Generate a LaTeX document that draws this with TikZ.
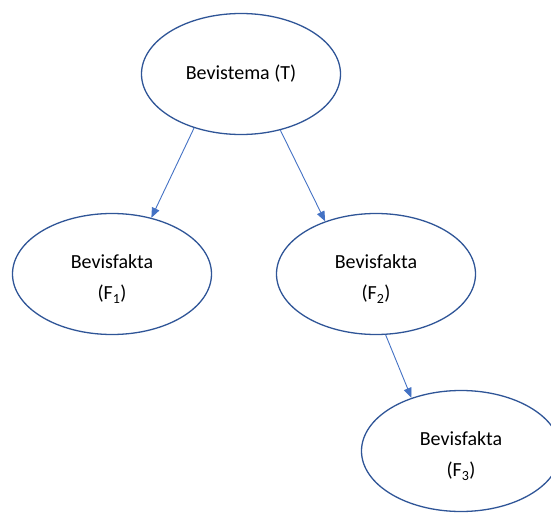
\documentclass[tikz,border=0pt]{standalone}
\usepackage{fontspec}
\setmainfont{Carlito}
\usetikzlibrary{shapes.geometric,arrows.meta}
\definecolor{elline}{HTML}{2F5597}
\definecolor{arline}{HTML}{4472C4}
\newcommand{\lowstrut}{\rule{0pt}{24pt}}
\tikzset{
  bubble/.style={ellipse, draw=elline, line width=1.3pt, minimum width=199pt, minimum height=121pt, inner sep=0pt, align=center, font=\fontsize{20}{31}\selectfont, text=black},
  conn/.style={draw=arline, line width=0.9pt, -{Triangle[length=10pt,width=8pt]}}
}
\begin{document}
\begin{tikzpicture}[x=1pt,y=-1pt]
\useasboundingbox (0,0) rectangle (551,513);
\node[bubble] (T) at (241,74) {Bevistema (T)};
\node[bubble] (F1) at (112,274) {\lowstrut Bevisfakta\\(F\textsubscript{1})};
\node[bubble] (F2) at (376,274) {\lowstrut Bevisfakta\\(F\textsubscript{2})};
\node[bubble] (F3) at (461,451) {\lowstrut Bevisfakta\\(F\textsubscript{3})};
\draw[conn] (T.229) -- (F1.55);
\draw[conn] (T.305) -- (F2.134);
\draw[conn] (F2.279) -- (F3.133);
\end{tikzpicture}
\end{document}
